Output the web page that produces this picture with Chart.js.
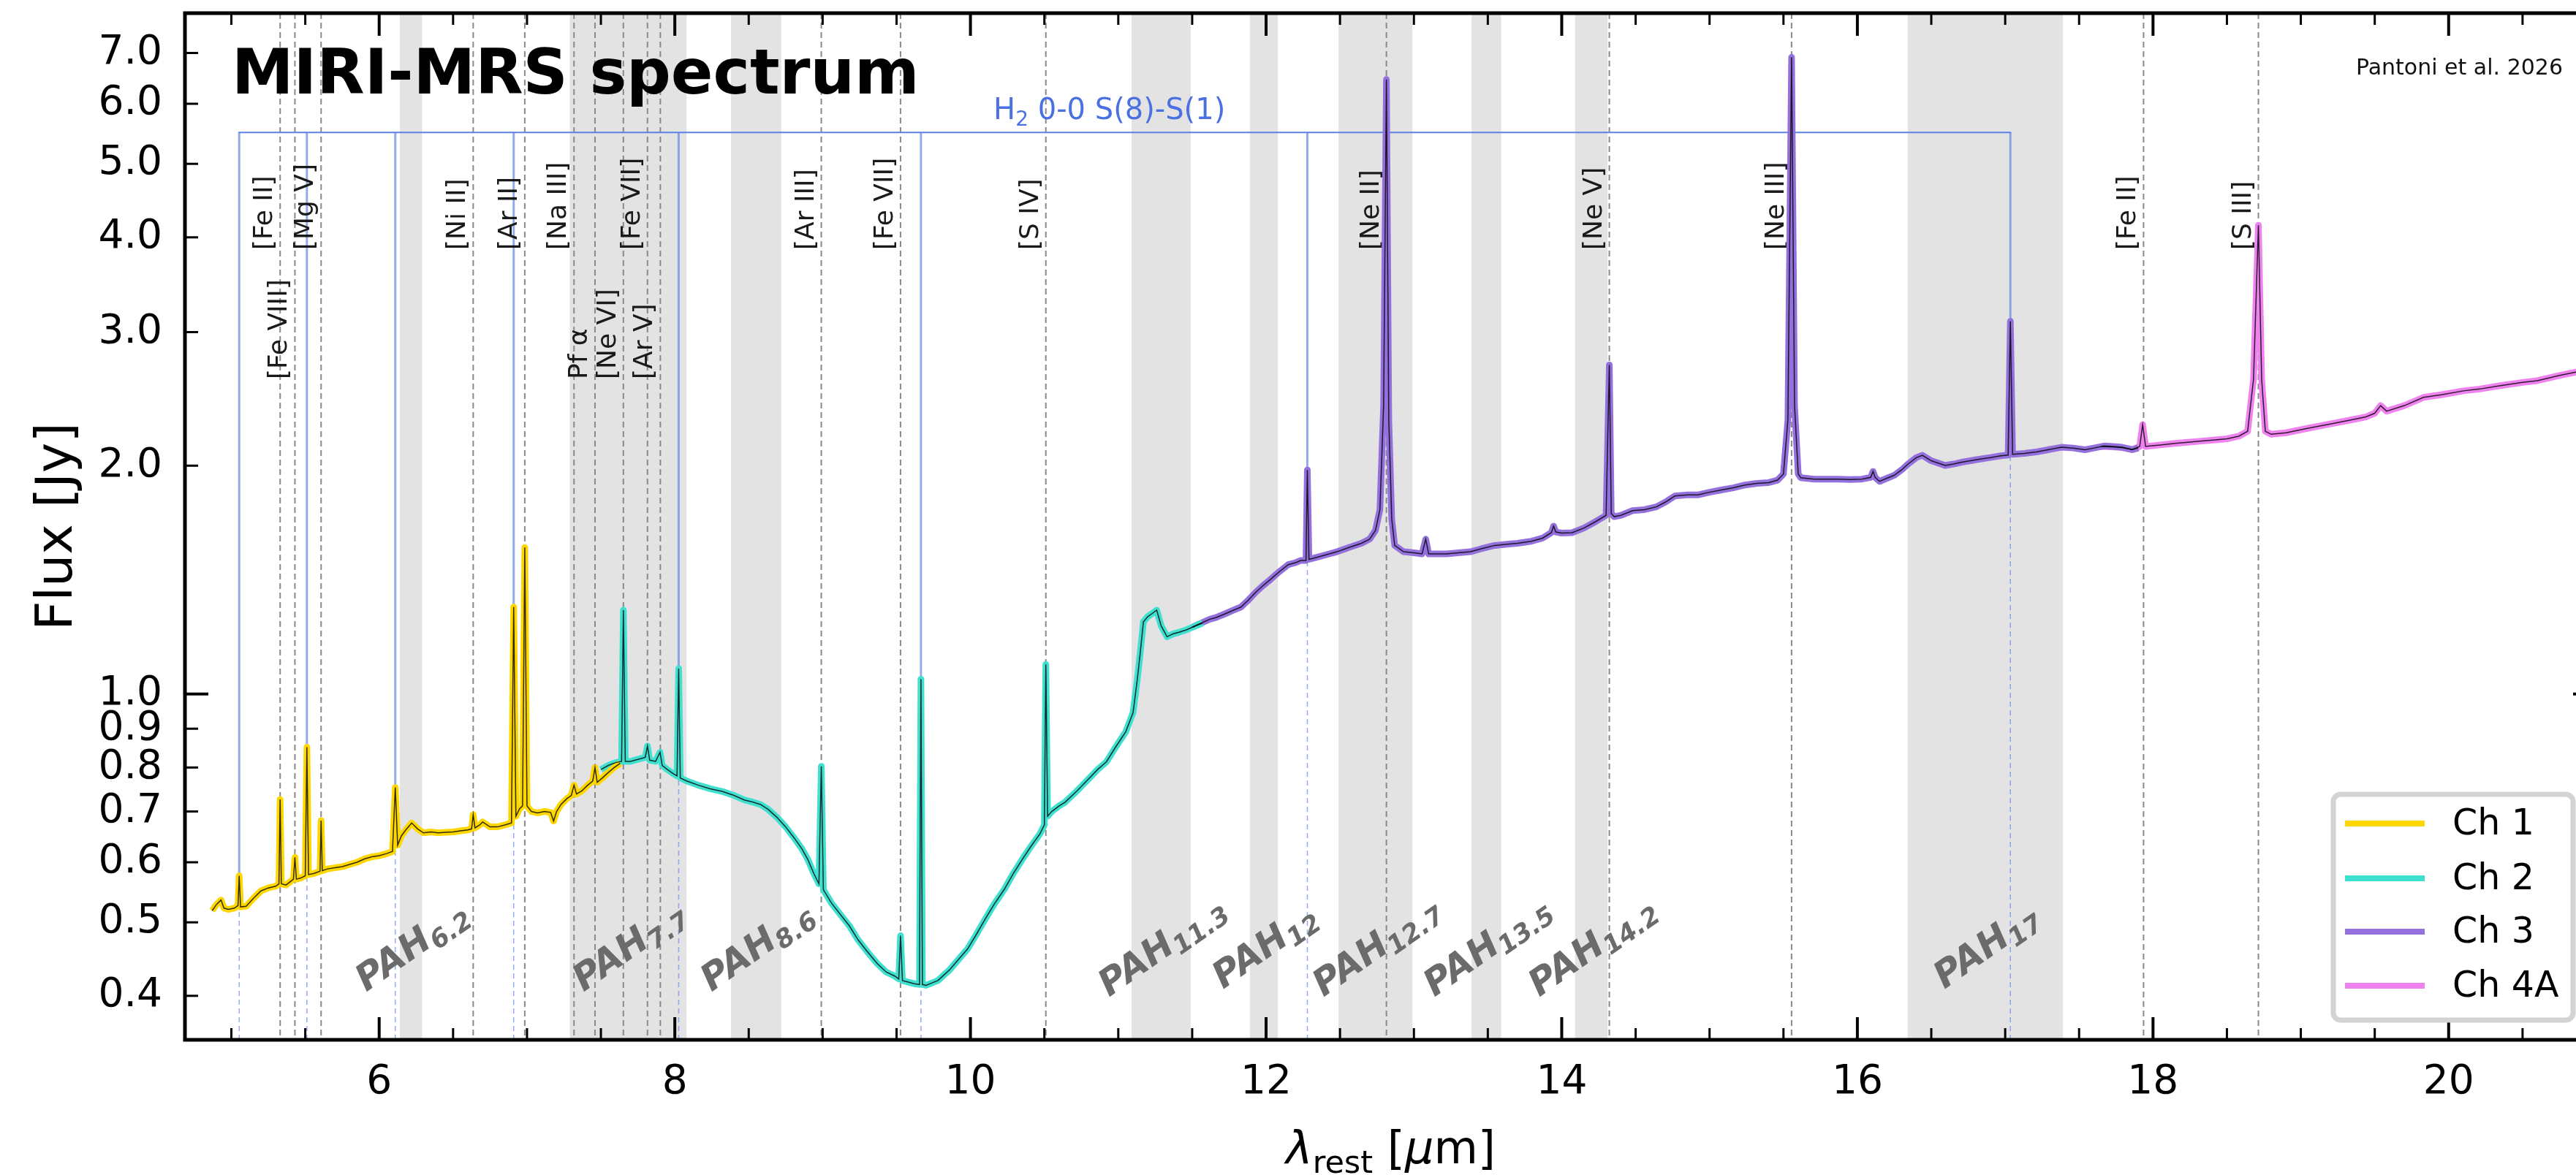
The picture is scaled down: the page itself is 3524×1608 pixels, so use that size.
<!DOCTYPE html>
<html><head><meta charset="utf-8">
<script src="https://cdn.jsdelivr.net/npm/chart.js@4.4.1/dist/chart.umd.min.js"></script>
<style>html,body{margin:0;padding:0;overflow:hidden;background:#fff;width:3524px;height:1608px}canvas{display:block}</style>
</head><body>
<canvas id="c" width="3560" height="1608"></canvas>
<script>
// ---------------- data ----------------
const channelNames = ['Ch 1', 'Ch 2', 'Ch 3', 'Ch 4A'];

const ch1Wave = [4.87,4.90,4.93,4.95,4.98,5.02,5.045,5.053,5.062,5.10,5.15,5.20,5.25,5.30,5.322,5.33,5.338,5.37,5.40,5.42,5.43,5.44,5.47,5.50,5.511,5.522,5.56,5.60,5.607,5.615,5.65,5.70,5.75,5.80,5.85,5.90,5.95,6.00,6.05,6.09,6.109,6.125,6.15,6.18,6.22,6.26,6.30,6.35,6.40,6.45,6.50,6.55,6.60,6.625,6.636,6.648,6.68,6.70,6.75,6.80,6.85,6.895,6.910,6.925,6.95,6.97,6.985,7.00,7.03,7.07,7.12,7.16,7.18,7.20,7.23,7.27,7.30,7.318,7.335,7.37,7.41,7.445,7.46,7.475,7.51,7.55,7.59,7.63];
const ch1Flux = [0.518,0.528,0.535,0.522,0.520,0.522,0.526,0.576,0.524,0.525,0.538,0.550,0.555,0.558,0.562,0.726,0.562,0.560,0.566,0.570,0.609,0.570,0.572,0.576,0.851,0.578,0.580,0.584,0.681,0.585,0.588,0.590,0.592,0.596,0.600,0.606,0.610,0.612,0.616,0.620,0.753,0.632,0.650,0.662,0.676,0.664,0.656,0.658,0.656,0.657,0.658,0.660,0.662,0.664,0.693,0.666,0.672,0.678,0.668,0.668,0.672,0.676,1.302,0.690,0.706,0.712,1.56,0.712,0.700,0.697,0.700,0.698,0.680,0.700,0.715,0.728,0.735,0.758,0.738,0.745,0.758,0.768,0.800,0.765,0.775,0.788,0.800,0.810];

const ch2Wave = [7.50,7.55,7.60,7.64,7.652,7.665,7.70,7.75,7.80,7.815,7.83,7.87,7.90,7.915,7.95,7.99,8.015,8.026,8.037,8.08,8.16,8.24,8.32,8.40,8.47,8.53,8.58,8.63,8.69,8.75,8.81,8.86,8.90,8.94,8.975,8.991,9.005,9.06,9.12,9.18,9.24,9.30,9.37,9.43,9.49,9.515,9.527,9.54,9.58,9.62,9.655,9.665,9.675,9.70,9.74,9.78,9.82,9.86,9.92,9.98,10.04,10.10,10.16,10.23,10.29,10.35,10.41,10.47,10.50,10.51,10.522,10.55,10.60,10.64,10.72,10.80,10.86,10.92,10.98,11.05,11.10,11.13,11.15,11.17,11.20,11.23,11.26,11.29,11.33,11.37,11.41,11.46,11.52,11.57];
const ch2Flux = [0.795,0.805,0.812,0.815,1.29,0.815,0.815,0.820,0.825,0.854,0.818,0.815,0.838,0.805,0.795,0.785,0.780,1.08,0.775,0.768,0.758,0.750,0.744,0.735,0.725,0.720,0.715,0.705,0.688,0.668,0.645,0.625,0.605,0.580,0.562,0.803,0.552,0.530,0.512,0.495,0.474,0.458,0.441,0.430,0.4245,0.421,0.480,0.419,0.417,0.415,0.414,1.046,0.414,0.413,0.416,0.419,0.426,0.433,0.447,0.461,0.482,0.505,0.528,0.553,0.580,0.605,0.630,0.654,0.672,1.094,0.690,0.700,0.712,0.720,0.745,0.773,0.795,0.814,0.850,0.891,0.945,1.05,1.14,1.245,1.265,1.277,1.29,1.23,1.19,1.20,1.206,1.215,1.229,1.24];

const ch3Wave = [11.50,11.56,11.62,11.66,11.72,11.78,11.83,11.88,11.93,11.98,12.03,12.09,12.15,12.20,12.235,12.27,12.279,12.29,12.32,12.40,12.48,12.56,12.645,12.70,12.74,12.77,12.795,12.814,12.83,12.85,12.87,12.93,13.00,13.055,13.08,13.10,13.15,13.22,13.30,13.383,13.46,13.547,13.62,13.70,13.794,13.87,13.93,13.945,13.96,14.00,14.07,14.15,14.23,14.30,14.322,14.335,14.355,14.40,14.48,14.56,14.64,14.70,14.765,14.85,14.92,15.00,15.08,15.16,15.24,15.32,15.40,15.46,15.50,15.53,15.555,15.575,15.60,15.617,15.71,15.80,15.87,15.95,16.03,16.09,16.106,16.12,16.15,16.20,16.25,16.30,16.34,16.40,16.44,16.50,16.594,16.65,16.70,16.815,16.90,16.97,17.02,17.035,17.05,17.13,17.21,17.29,17.38,17.46,17.54,17.60,17.67,17.73,17.79,17.86,17.90];
const ch3Flux = [1.225,1.240,1.255,1.261,1.275,1.290,1.302,1.330,1.362,1.390,1.416,1.450,1.481,1.490,1.500,1.500,1.974,1.505,1.510,1.525,1.540,1.560,1.580,1.600,1.643,1.750,2.40,6.46,2.30,1.70,1.570,1.540,1.535,1.530,1.600,1.530,1.530,1.530,1.535,1.540,1.555,1.570,1.575,1.580,1.590,1.605,1.632,1.665,1.635,1.630,1.632,1.655,1.688,1.720,2.715,1.730,1.713,1.720,1.745,1.750,1.765,1.790,1.824,1.830,1.830,1.845,1.858,1.870,1.886,1.895,1.900,1.914,1.950,2.30,6.91,2.40,1.950,1.928,1.920,1.920,1.920,1.918,1.920,1.930,1.965,1.930,1.907,1.925,1.943,1.975,2.008,2.050,2.064,2.030,2.001,2.010,2.020,2.038,2.050,2.061,2.065,3.10,2.070,2.076,2.085,2.099,2.115,2.110,2.099,2.110,2.123,2.120,2.115,2.100,2.110];

const ch4Wave = [17.65,17.72,17.79,17.86,17.91,17.93,17.95,17.98,18.05,18.15,18.235,18.33,18.42,18.50,18.58,18.64,18.68,18.713,18.735,18.76,18.80,18.90,19.05,19.20,19.35,19.44,19.50,19.54,19.58,19.70,19.83,19.95,20.10,20.21,20.35,20.50,20.60,20.75,20.86,21.0];
const ch4Flux = [2.120,2.118,2.113,2.100,2.120,2.265,2.120,2.123,2.130,2.140,2.147,2.155,2.163,2.170,2.187,2.220,2.60,4.15,2.60,2.220,2.200,2.210,2.241,2.270,2.300,2.319,2.345,2.400,2.360,2.400,2.461,2.480,2.510,2.524,2.550,2.575,2.589,2.630,2.657,2.680];

// emission lines (rest wavelengths, um)
const ionWave  = [5.33,5.43,5.607,6.636,6.985,7.318,7.46,7.652,7.815,7.902,8.991,9.527,10.51,12.814,14.322,15.555,17.936,18.713];
const ionLabel = ['[Fe II]','[Fe VIII]','[Mg V]','[Ni II]','[Ar II]','[Na III]','Pf \u03b1','[Ne VI]','[Fe VII]','[Ar V]','[Ar III]','[Fe VII]','[S IV]','[Ne II]','[Ne V]','[Ne III]','[Fe II]','[S III]'];
const ionRow   = [0,1,0,0,0,0,1,1,0,1,0,0,0,0,0,0,0,0];

// H2 0-0 S(8)...S(1)
const h2Wave = [5.053,5.511,6.109,6.910,8.026,9.665,12.279,17.035];
const h2Peak = [0.576,0.851,0.753,1.302,1.08,1.046,1.974,3.10];
const h2Bracket = 5.5;

// PAH bands
const pahLo  = [6.14,7.29,8.38,11.09,11.89,12.49,13.39,14.09,16.34];
const pahHi  = [6.29,8.08,8.72,11.49,12.08,12.99,13.59,14.31,17.39];
const pahSub = ['6.2','7.7','8.6','11.3','12','12.7','13.5','14.2','17'];

// axes
const xRange = [4.686, 21.0];
const yRange = [0.35, 7.9];
const xMajorTicks = [6,8,10,12,14,16,18,20];
const xMinorTicks = [5,5.5,6.5,7,7.5,8.5,9,9.5,10.5,11,11.5,12.5,13,13.5,14.5,15,15.5,16.5,17,17.5,18.5,19,19.5,20.5,21];
const yMajorTicks = [1];
const yMinorTicks = [0.4,0.5,0.6,0.7,0.8,0.9,2,3,4,5,6,7];
const yTickLabels = [0.4,0.5,0.6,0.7,0.8,0.9,1.0,2.0,3.0,4.0,5.0,6.0,7.0];

// ---------------- styles ----------------
const chColors = ['#ffd700','#40e0d0','#9370db','#ee82ee'];
const waves = [ch1Wave,ch2Wave,ch3Wave,ch4Wave];
const fluxes = [ch1Flux,ch2Flux,ch3Flux,ch4Flux];
const pts = (w,f) => w.map((v,i)=>({x:v,y:f[i]}));

const datasets = [];
for (let c=0;c<4;c++){
  datasets.push({label:channelNames[c], data:pts(waves[c],fluxes[c]), borderColor:chColors[c], borderWidth:9, pointRadius:0, tension:0, order:10+c, borderJoinStyle:'round'});
}
for (let c=0;c<4;c++){
  datasets.push({label:'_'+channelNames[c], data:pts(waves[c],fluxes[c]), borderColor:'rgba(0,0,0,0.8)', borderWidth:1.5, pointRadius:0, tension:0, order:1});
}

function seg(ctx,x0,y0,x1,y1){ctx.beginPath();ctx.moveTo(x0,y0);ctx.lineTo(x1,y1);ctx.stroke();}

const overlay = {
  id:'overlay',
  beforeDatasetsDraw(chart){
    const {ctx, chartArea:a, scales:{x,y}} = chart;
    ctx.save();
    ctx.beginPath(); ctx.rect(a.left,a.top,a.right-a.left,a.bottom-a.top); ctx.clip();
    // PAH bands
    ctx.fillStyle = '#e3e3e3';
    pahLo.forEach((lo,i)=>{const x0=x.getPixelForValue(lo),x1=x.getPixelForValue(pahHi[i]);ctx.fillRect(x0,a.top,x1-x0,a.bottom-a.top);});
    // ion dashed lines
    ctx.strokeStyle='#8a8a8a'; ctx.lineWidth=2; ctx.setLineDash([8,5]);
    ionWave.forEach(w=>{const p=x.getPixelForValue(w);seg(ctx,p,a.top,p,a.bottom);});
    // H2 dashed below
    ctx.strokeStyle='rgba(110,145,235,0.75)'; ctx.lineWidth=1.5; ctx.setLineDash([7,5]);
    h2Wave.forEach((w,i)=>{const p=x.getPixelForValue(w);seg(ctx,p,a.bottom,p,y.getPixelForValue(h2Peak[i]));});
    ctx.setLineDash([]);
    // H2 verticals
    ctx.strokeStyle='rgba(100,135,225,0.7)'; ctx.lineWidth=3;
    const yb = y.getPixelForValue(h2Bracket);
    h2Wave.forEach((w,i)=>{const p=x.getPixelForValue(w);seg(ctx,p,y.getPixelForValue(h2Peak[i]),p,yb);});
    ctx.strokeStyle='#5b80e6'; ctx.lineWidth=2.2;
    seg(ctx,x.getPixelForValue(h2Wave[0])-1,yb,x.getPixelForValue(h2Wave[h2Wave.length-1])+1,yb);
    // H2 label
    ctx.fillStyle='#4a70e2'; ctx.textBaseline='alphabetic';
    const f1='40px "DejaVu Sans"', f2='28px "DejaVu Sans"';
    ctx.font=f1; const wH=ctx.measureText('H').width, wR=ctx.measureText(' 0-0 S(8)-S(1)').width;
    ctx.font=f2; const w2=ctx.measureText('2').width;
    const tot=wH+w2+wR; let lx=x.getPixelForValue(10.94)-tot/2; const ly=yb-18;
    ctx.font=f1; ctx.fillText('H',lx,ly); lx+=wH;
    ctx.font=f2; ctx.fillText('2',lx,ly+9); lx+=w2;
    ctx.font=f1; ctx.fillText(' 0-0 S(8)-S(1)',lx,ly);
    // ion labels
    ctx.font='36px "DejaVu Sans"'; ctx.fillStyle='#1a1a1a'; ctx.textAlign='left';
    ionWave.forEach((w,i)=>{
      const p=x.getPixelForValue(w), q=y.getPixelForValue(ionRow[i]?2.60:3.85);
      ctx.save(); ctx.translate(p-11,q); ctx.rotate(-Math.PI/2); ctx.fillText(ionLabel[i],0,0); ctx.restore();
    });
    // PAH labels
    ctx.fillStyle='#6b6b6b';
    const pf1='italic bold 50px "DejaVu Sans"', pf2='italic bold 35px "DejaVu Sans"';
    pahSub.forEach((s,i)=>{
      const cx=x.getPixelForValue((pahLo[i]+pahHi[i])/2), cy=y.getPixelForValue(0.467);
      ctx.font=pf1; const a1=ctx.measureText('PAH').width; ctx.font=pf2; const a2=ctx.measureText(s).width;
      ctx.save(); ctx.translate(cx,cy); ctx.rotate(-35*Math.PI/180);
      const sx=-(a1+a2)/2;
      ctx.font=pf1; ctx.fillText('PAH',sx,18);
      ctx.font=pf2; ctx.fillText(s,sx+a1,27);
      ctx.restore();
    });
    ctx.restore();
  },
  afterDatasetsDraw(chart){
    const {ctx, chartArea:a, scales:{x,y}} = chart;
    ctx.save();
    // ticks (inward, all sides)
    ctx.strokeStyle='#000';
    const xt=(vals,len,lw)=>{ctx.lineWidth=lw;vals.forEach(v=>{const p=x.getPixelForValue(v);seg(ctx,p,a.bottom,p,a.bottom-len);seg(ctx,p,a.top,p,a.top+len);});};
    const yt=(vals,len,lw)=>{ctx.lineWidth=lw;vals.forEach(v=>{const p=y.getPixelForValue(v);seg(ctx,a.left,p,a.left+len,p);seg(ctx,a.right,p,a.right-len,p);});};
    xt(xMajorTicks,31,4); xt(xMinorTicks,16,3);
    yt(yMajorTicks,32,4); yt(yMinorTicks,18,3);
    // spines
    ctx.lineWidth=5; ctx.strokeRect(a.left,a.top,a.right-a.left,a.bottom-a.top);
    // title
    ctx.fillStyle='#000'; ctx.textAlign='left'; ctx.textBaseline='alphabetic';
    ctx.font='bold 85px "DejaVu Sans"'; ctx.fillText('MIRI-MRS spectrum',a.left+64,a.top+110);
    // credit
    ctx.font='30px "DejaVu Sans"'; ctx.textAlign='right'; ctx.fillStyle='#111';
    ctx.fillText('Pantoni et al. 2026',a.right-46,a.top+84);
    // legend
    const L=3192, R=3520, T=1087, B=1396;
    ctx.fillStyle='#fff'; ctx.strokeStyle='#d3d3d3'; ctx.lineWidth=7;
    ctx.beginPath(); ctx.roundRect(L,T,R-L,B-T,10); ctx.fill(); ctx.stroke();
    const rows=[1127,1202,1275,1349];
    ctx.textAlign='left'; ctx.textBaseline='middle'; ctx.font='49px "DejaVu Sans"';
    channelNames.forEach((n,i)=>{
      ctx.strokeStyle=chColors[i]; ctx.lineWidth=8; seg(ctx,3208,rows[i],3317,rows[i]);
      ctx.fillStyle='#000'; ctx.fillText(n,3355,rows[i]+2);
    });
    // x axis title
    ctx.textBaseline='alphabetic'; ctx.fillStyle='#000';
    const parts=[['\u03bb','italic 62px "DejaVu Sans"',0],['rest','43px "DejaVu Sans"',13],[' [','62px "DejaVu Sans"',0],['\u03bc','italic 62px "DejaVu Sans"',0],['m]','62px "DejaVu Sans"',0]];
    let tw=0; parts.forEach(p=>{ctx.font=p[1];p.push(ctx.measureText(p[0]).width);tw+=p[3];});
    let tx=(a.left+a.right)/2-tw/2; const ty=1592;
    parts.forEach(p=>{ctx.font=p[1];ctx.fillText(p[0],tx,ty+p[2]);tx+=p[3];});
    ctx.restore();
  }
};

new Chart(document.getElementById('c'), {
  type:'line',
  data:{datasets},
  options:{
    responsive:false, animation:false, devicePixelRatio:1,
    layout:{padding:{left:0,top:18,right:3560-3552,bottom:0}},
    plugins:{legend:{display:false}, tooltip:{enabled:false}},
    scales:{
      x:{type:'linear', min:xRange[0], max:xRange[1],
        afterFit(s){s.height=185; s.paddingLeft=0; s.paddingRight=0; s.paddingTop=0; s.paddingBottom=0;},
        afterBuildTicks(s){s.ticks=xMajorTicks.map(v=>({value:v}));},
        grid:{display:false, drawTicks:false}, border:{display:false},
        ticks:{autoSkip:false, maxRotation:0, padding:26, color:'#000', font:{family:'DejaVu Sans', size:55}, callback:v=>String(v)},
        title:{display:false}
      },
      y:{type:'logarithmic', min:yRange[0], max:yRange[1],
        afterFit(s){s.width=253; s.paddingLeft=0; s.paddingRight=0; s.paddingTop=0; s.paddingBottom=0;},
        afterBuildTicks(s){s.ticks=yTickLabels.map(v=>({value:v}));},
        grid:{display:false, drawTicks:false}, border:{display:false},
        ticks:{autoSkip:false, padding:31, color:'#000', font:{family:'DejaVu Sans', size:55}, callback:v=>Number(v).toFixed(1)},
        title:{display:true, text:'Flux [Jy]', color:'#000', font:{family:'DejaVu Sans', size:70}, padding:{top:38,bottom:0}}
      }
    }
  },
  plugins:[overlay]
});
</script>
</body></html>
